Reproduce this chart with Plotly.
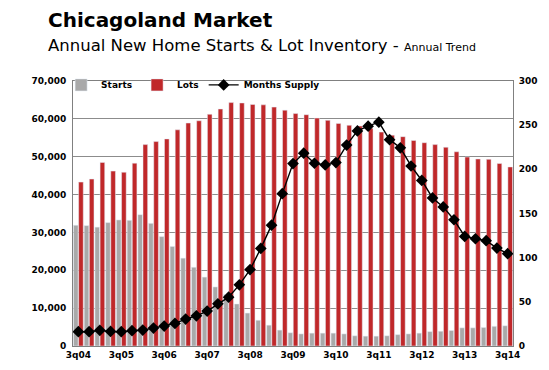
import plotly.graph_objects as go

# quarter labels 3q04 .. 3q14
labels = ["3q04", "4q04",
          "1q05", "2q05", "3q05", "4q05",
          "1q06", "2q06", "3q06", "4q06",
          "1q07", "2q07", "3q07", "4q07",
          "1q08", "2q08", "3q08", "4q08",
          "1q09", "2q09", "3q09", "4q09",
          "1q10", "2q10", "3q10", "4q10",
          "1q11", "2q11", "3q11", "4q11",
          "1q12", "2q12", "3q12", "4q12",
          "1q13", "2q13", "3q13", "4q13",
          "1q14", "2q14", "3q14"]

starts = [31900, 31800, 31400, 32600, 33300, 33200, 34700, 32400, 28900, 26300,
          23200, 20800, 18200, 15600, 13600, 11100, 8700, 6800, 5500, 4200,
          3500, 3200, 3400, 3400, 3400, 3200, 2700, 2600, 2600, 2700,
          3000, 3200, 3400, 3800, 3900, 4100, 4800, 4800, 4900, 5200, 5350]

lots = [43300, 44100, 48500, 46200, 45900, 48300, 53200, 54000, 54700, 57100,
        58900, 59500, 61200, 62600, 64300, 64200, 63800, 63700, 63100, 62300,
        61400, 61100, 60200, 59600, 58800, 58300, 58100, 57500, 56500, 55700,
        55300, 54300, 53700, 53200, 52500, 51300, 49900, 49400, 49300, 48200, 47300]

months_supply = [16.2, 16.2, 17.7, 16.5, 16.2, 17.3, 18.0, 20.3, 22.6, 25.6,
                 30.5, 34.2, 39.5, 47.7, 55.3, 69.2, 86.5, 110.5, 136.8, 172.5,
                 206.5, 218.3, 206.9, 205.0, 207.6, 227.5, 243.5, 248.9, 253.4, 233.6,
                 224.4, 203.8, 187.4, 167.6, 157.5, 142.9, 124.0, 121.4, 119.2, 110.9, 104.5]

tick_labels = [l for l in labels if l.startswith("3q")]

FONT = "DejaVu Sans"

fig = go.Figure()
fig.add_trace(go.Bar(x=labels, y=starts, name="Starts", marker_color="#A9A9A9"))
fig.add_trace(go.Bar(x=labels, y=lots, name="Lots", marker_color="#C0282A"))
fig.add_trace(go.Scatter(x=labels, y=months_supply, name="Months Supply", yaxis="y2",
                         mode="lines+markers",
                         line=dict(color="black", width=1.4),
                         marker=dict(symbol="diamond", size=9, color="black")))

fig.update_layout(
    width=549, height=370,
    margin=dict(l=65, r=44, t=73, b=32),
    paper_bgcolor="white", plot_bgcolor="white",
    barmode="group", bargap=0.04, bargroupgap=0.1,
    font=dict(family=FONT, color="black"),
    showlegend=True,
    legend=dict(orientation="h", x=-0.027, y=1.04, xanchor="left", yanchor="top",
                bgcolor="rgba(0,0,0,0)", font=dict(size=9, family=FONT, weight="bold"),
                itemwidth=30, traceorder="normal"),
    xaxis=dict(type="category", range=[-0.5, len(labels) - 0.5],
               tickmode="array", tickvals=tick_labels, ticktext=tick_labels,
               tickfont=dict(size=9, family=FONT, weight="bold"),
               showline=True, linecolor="#808080", linewidth=1, mirror=True,
               showgrid=False, ticks="", tickangle=0),
    yaxis=dict(range=[0, 70000], dtick=10000, tickformat=",",
               tickfont=dict(size=9, family=FONT, weight="bold"),
               showgrid=True, gridcolor="#8C8C8C", gridwidth=1,
               showline=True, linecolor="#808080", linewidth=1,
               zeroline=False, ticks="", ticklabelstandoff=4),
    yaxis2=dict(range=[0, 300], dtick=50, overlaying="y", side="right",
                tickfont=dict(size=9, family=FONT, weight="bold"),
                showgrid=False, showline=True, linecolor="#808080", linewidth=1,
                zeroline=False, ticks="", ticklabelstandoff=3),
)

fig.add_annotation(text="<b>Chicagoland Market</b>", xref="paper", yref="paper",
                   x=-0.062, y=1.23, xanchor="left", yanchor="middle", showarrow=False,
                   font=dict(size=20, family=FONT, color="black"))
fig.add_annotation(text="Annual New Home Starts &amp; Lot Inventory - <span style='font-size:11px'>Annual Trend</span>",
                   xref="paper", yref="paper",
                   x=-0.062, y=1.135, xanchor="left", yanchor="middle", showarrow=False,
                   font=dict(size=16.5, family=FONT, color="black"))

fig.write_html("out.html")
